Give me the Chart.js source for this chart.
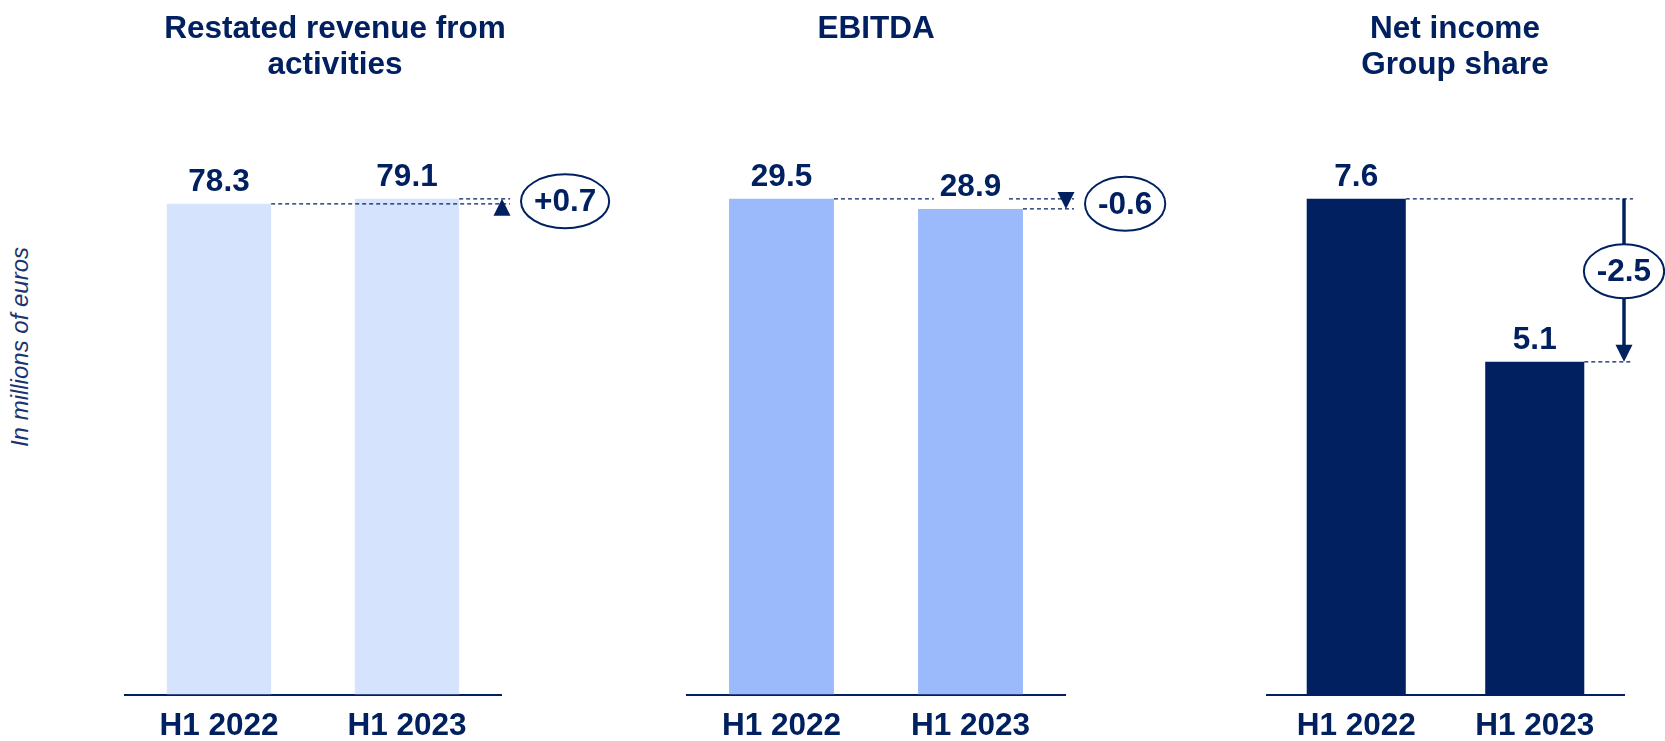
<!DOCTYPE html>
<html>
<head>
<meta charset="utf-8">
<script src="https://cdn.jsdelivr.net/npm/chart.js@4/dist/chart.umd.min.js"></script>
<style>
    html, body { margin: 0; padding: 0; background: #ffffff; width: 1665px; height: 741px; overflow: hidden; }
    .panel { position: absolute; top: 0; height: 758px; }
    #axisLabel {
        position: absolute; left: 20px; top: 347px;
        transform: translate(-50%, -50%) rotate(-90deg);
        font: italic 24px 'Liberation Sans', Arial, sans-serif;
        color: #1a3570; white-space: nowrap;
    }
</style>
</head>
<body>
<div id="axisLabel">In millions of euros</div>
<div class="panel" style="left:0px;width:670px"><canvas id="c1"></canvas></div>
<div class="panel" style="left:585px;width:582px"><canvas id="c2"></canvas></div>
<div class="panel" style="left:1245px;width:420px"><canvas id="c3"></canvas></div>
<script>
const periods = ['H1 2022', 'H1 2023'];
const revenue = [78.3, 79.1];
const ebitda = [29.5, 28.9];
const netIncome = [7.6, 5.1];
const titles = [['Restated revenue from', 'activities'], ['EBITDA'], ['Net income', 'Group share']];
const deltas = ['+0.7', '-0.6', '-2.5'];

const NAVY = '#002060';
const FONT = "'Liberation Sans', Arial, sans-serif";
const BIG = 31.5;

// dashed guide lines, change marker and circled delta, then value labels
const diffPlugin = {
    id: 'diff',
    afterDatasetsDraw(chart) {
        const cfg = chart.options.plugins.diff;
        const ctx = chart.ctx;
        const area = chart.chartArea;
        const bars = chart.getDatasetMeta(0).data;
        const b1 = bars[0], b2 = bars[1];
        const y1 = b1.y, y2 = b2.y;
        const xEnd = area.right + 9;

        const line = (xa, ya, xb, yb) => {
            ctx.beginPath(); ctx.moveTo(xa, ya); ctx.lineTo(xb, yb); ctx.stroke();
        };
        const tri = (x, tip, base, hw) => {
            ctx.beginPath(); ctx.moveTo(x, tip); ctx.lineTo(x - hw, base); ctx.lineTo(x + hw, base);
            ctx.closePath(); ctx.fill();
        };

        ctx.save();
        ctx.strokeStyle = NAVY;
        ctx.fillStyle = NAVY;
        ctx.lineWidth = 1.2;
        ctx.setLineDash([4, 3]);
        line(b1.x + b1.width / 2, y1, xEnd, y1);
        line(b2.x + b2.width / 2, y2, xEnd, y2);
        ctx.setLineDash([]);

        ctx.font = 'bold ' + BIG + 'px ' + FONT;
        const tw = ctx.measureText(cfg.text).width;
        const rx = tw / 2 + 13, ry = 27;
        let cx, cy;
        if (cfg.style === 'arrow') {
            const ax = area.right;
            ctx.lineWidth = 3.5;
            line(ax, y1, ax, y2 - 12);
            tri(ax, y2, y2 - 17, 8.5);
            cx = ax;
            cy = (y1 + y2) / 2 - 9;
        } else {
            const tx = area.right + 1;
            tri(tx, y2, y2 + (y1 > y2 ? 17 : -17), 8.5);
            cx = area.right + tw / 2 + 33;
            cy = (y1 + y2) / 2;
        }

        ctx.beginPath();
        ctx.ellipse(cx, cy, rx, ry, 0, 0, Math.PI * 2);
        ctx.fillStyle = '#ffffff';
        ctx.fill();
        ctx.lineWidth = 2;
        ctx.stroke();
        ctx.fillStyle = NAVY;
        ctx.textAlign = 'center';
        ctx.textBaseline = 'middle';
        ctx.fillText(cfg.text, cx, cy + 1);

        // value labels above bars
        const values = chart.data.datasets[0].data;
        bars.forEach((bar, i) => {
            const label = values[i].toFixed(1);
            const w = ctx.measureText(label).width;
            const ly = bar.y - 23;
            ctx.fillStyle = '#ffffff';
            ctx.fillRect(bar.x - w / 2 - 6, ly - 15, w + 12, 30);
            ctx.fillStyle = NAVY;
            ctx.fillText(label, bar.x, ly + 1);
        });
        ctx.restore();
    }
};

// invisible side axes only reserve room, so the title stays centred on the canvas
const spacer = (width, position) => ({
    display: true,
    position: position,
    ticks: { display: false },
    grid: { display: false },
    border: { display: false },
    afterFit: (scale) => { scale.width = width; }
});

function makePanel(id, values, title, color, delta, style, padL, padR) {
    const top = 120;
    const titleBottom = top - 9 - title.length * 36;
    new Chart(document.getElementById(id), {
        type: 'bar',
        data: {
            labels: periods,
            datasets: [{
                data: values,
                backgroundColor: color,
                borderWidth: 0,
                barPercentage: 1,
                categoryPercentage: 0.555
            }]
        },
        options: {
            responsive: true,
            maintainAspectRatio: false,
            animation: false,
            layout: { padding: 0 },
            scales: {
                x: {
                    grid: { display: true, color: 'rgba(0,0,0,0)', drawTicks: false },
                    border: { display: true, color: NAVY, width: 2 },
                    ticks: {
                        color: NAVY,
                        padding: 16,
                        font: { family: FONT, size: BIG, weight: 'bold', lineHeight: 1 }
                    }
                },
                y: Object.assign(spacer(padL, 'left'), {
                    min: 0,
                    max: Math.max(...values) * 1.159
                }),
                yRight: spacer(padR, 'right')
            },
            plugins: {
                legend: { display: false },
                tooltip: { enabled: false },
                title: {
                    display: true,
                    text: title,
                    color: NAVY,
                    font: { family: FONT, size: BIG, weight: 'bold', lineHeight: 36 / BIG },
                    padding: { top: 11, bottom: titleBottom - 2 }
                },
                diff: { text: delta, style: style }
            }
        },
        plugins: [diffPlugin]
    });
}

makePanel('c1', revenue, titles[0], '#d6e3fd', deltas[0], 'marker', 125, 169);
makePanel('c2', ebitda, titles[1], '#9bbafc', deltas[1], 'marker', 102, 102);
makePanel('c3', netIncome, titles[2], '#002060', deltas[2], 'arrow', 22, 41);
</script>
</body>
</html>
